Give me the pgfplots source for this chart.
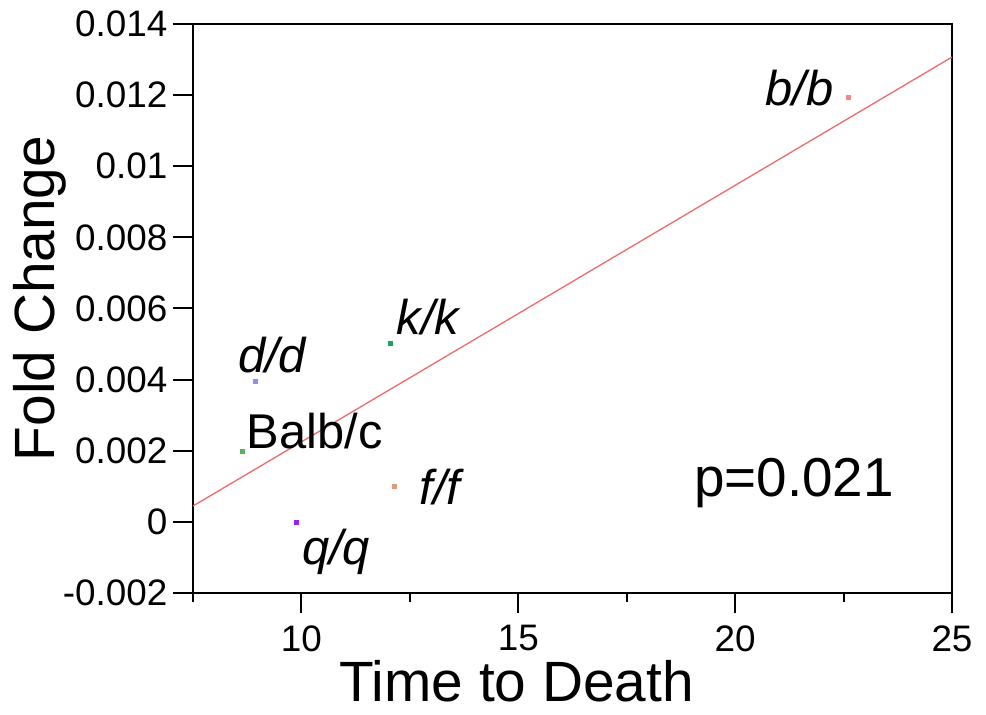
\documentclass[border=0pt]{standalone}
\usepackage{fontspec}
\setmainfont{Liberation Sans}
\usepackage{pgfplots}
\pgfplotsset{compat=1.18}

\definecolor{fitred}{HTML}{F06A6A}
\definecolor{cbb}{HTML}{F08A8A}
\definecolor{ckk}{HTML}{20A060}
\definecolor{cdd}{HTML}{8890F0}
\definecolor{cbalb}{HTML}{60B060}
\definecolor{cff}{HTML}{E09A80}
\definecolor{cqq}{HTML}{9A20F0}

\begin{document}
\begin{tikzpicture}
\path[use as bounding box] (-193bp,-122bp) rectangle (793bp,593bp);
\begin{axis}[
  at={(0,0)}, anchor=south west,
  scale only axis,
  width=759bp, height=569bp,
  xmin=7.5, xmax=25,
  ymin=-0.002, ymax=0.014,
  xtick={10,15,20,25},
  minor xtick={7.5,12.5,17.5,22.5},
  ytick={-0.002,0,0.002,0.004,0.006,0.008,0.01,0.012,0.014},
  yticklabels={-0.002,0,0.002,0.004,0.006,0.008,0.01,0.012,0.014},
  scaled y ticks=false,
  tick align=outside,
  major tick length=20bp,
  minor tick length=9bp,
  xtick pos=bottom, ytick pos=left,
  axis line style={line width=2bp},
  every tick/.style={black, line width=2bp},
  /pgf/number format/assume math mode=true,
  tick label style={font=\fontsize{37}{37}\selectfont},
  xticklabel style={yshift=-9bp},
  yticklabel style={xshift=-2bp},
  xlabel={Time to Death},
  ylabel={Fold Change},
  label style={font=\fontsize{57}{57}\selectfont},
  xlabel style={inner sep=0pt, xshift=-56bp, yshift=-5bp},
  ylabel style={xshift=10bp, yshift=-10bp},
  clip=false,
]
\addplot[fitred, line width=1.3bp] coordinates {(7.5,0.000446) (25,0.01307)};
\addplot[only marks, mark=square*, mark size=2bp, cbb] coordinates {(22.6,0.01195)};
\addplot[only marks, mark=square*, mark size=2bp, ckk] coordinates {(12.05,0.00503)};
\addplot[only marks, mark=square*, mark size=2bp, cdd] coordinates {(8.93,0.00396)};
\addplot[only marks, mark=square*, mark size=2bp, cbalb] coordinates {(8.63,0.0020)};
\addplot[only marks, mark=square*, mark size=2bp, cff] coordinates {(12.15,0.0010)};
\addplot[only marks, mark=square*, mark size=2bp, cqq] coordinates {(9.87,0.0)};
\begin{scope}[every node/.style={anchor=base west, inner sep=0pt, font=\fontsize{49}{49}\selectfont}]
\node at (axis cs:20.70,0.01172) {\itshape b/b};
\node at (axis cs:12.19,0.005255) {\itshape k/k};
\node at (axis cs:8.535,0.004214) {\itshape d/d};
\node at (axis cs:8.74,0.002077) {Balb/c};
\node at (axis cs:12.72,0.000475) {\itshape f/f};
\node at (axis cs:10.01,-0.00121) {\itshape q/q};
\node[font=\fontsize{55}{55}\selectfont] at (axis cs:19.05,0.0007) {p=0.021};
\end{scope}
\end{axis}
\end{tikzpicture}
\end{document}
